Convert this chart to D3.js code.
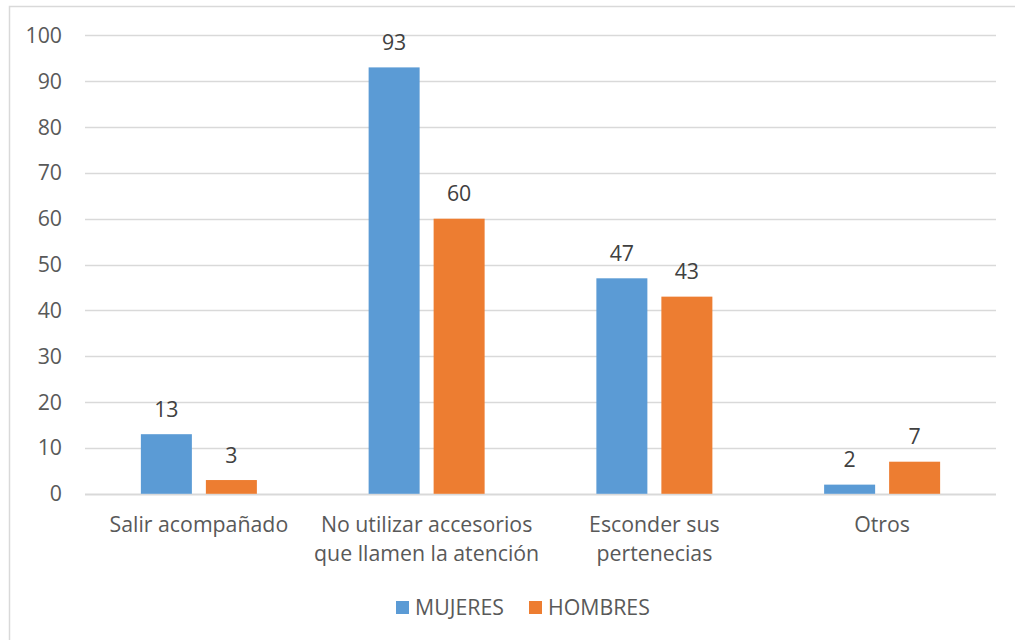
<!DOCTYPE html>
<html><head><meta charset="utf-8">
<script src="https://cdn.jsdelivr.net/npm/d3@7"></script>
<style>body{margin:0;background:#fff;}svg{display:block;font-family:"Open Sans",sans-serif;}</style>
</head><body><svg id="c" width="1015" height="640"></svg>
<script>
const categories = [["Salir acompañado"],["No utilizar accesorios","que llamen la atención"],["Esconder sus","pertenecias"],["Otros"]];
const seriesNames = ["MUJERES","HOMBRES"];
const mujeres = [13,93,47,2];
const hombres = [3,60,43,7];
const yTicks = [0,10,20,30,40,50,60,70,80,90,100];
const colors = ["#5b9bd5","#ed7d31"];

const FS = 21.3;
const svg = d3.select("#c");
// outer frame
svg.append("rect").attr("x",9.5).attr("y",6.5).attr("width",1100).attr("height",700)
  .attr("fill","none").attr("stroke","#d9d9d9").attr("stroke-width",1.5);

const L=85, R=996, T=35.3, B=493.8;
const x = d3.scaleBand().domain(d3.range(categories.length)).range([L,R]).paddingInner(0).paddingOuter(0);
const y = d3.scaleLinear().domain([0,100]).range([B,T]);
const barW = 51, gap = 14;

const g = svg.append("g");
g.selectAll("line.grid").data(yTicks).join("line")
  .attr("x1",L).attr("x2",R).attr("y1",d=>Math.round(y(d))+0.5).attr("y2",d=>Math.round(y(d))+0.5)
  .attr("stroke","#d9d9d9").attr("stroke-width",d=>d===0?2:1.3);

g.selectAll("text.ytick").data(yTicks).join("text")
  .attr("x",62).attr("y",d=>y(d)+7.5).attr("text-anchor","end")
  .attr("font-size",FS).attr("fill","#595959").text(d=>d);

const series=[mujeres,hombres];
series.forEach((vals,s)=>{
  vals.forEach((v,i)=>{
    const bx = x(i) + (x.bandwidth()-(barW*2+gap))/2 + s*(barW+gap);
    g.append("rect").attr("x",bx).attr("y",y(v)).attr("width",barW).attr("height",y(0)-y(v)).attr("fill",colors[s]);
    g.append("text").attr("x",bx+barW/2).attr("y",y(v)-17.5).attr("text-anchor","middle")
      .attr("font-size",FS).attr("fill","#404040").text(v);
  });
});

categories.forEach((lines,i)=>{
  const t = g.append("text").attr("text-anchor","middle").attr("font-size",FS).attr("fill","#595959");
  lines.forEach((ln,j)=>{
    t.append("tspan").attr("x",x(i)+x.bandwidth()/2).attr("y",532+j*29).text(ln);
  });
});

// legend
const leg = svg.append("g");
const legX=[396,529];
seriesNames.forEach((n,s)=>{
  leg.append("rect").attr("x",legX[s]).attr("y",601).attr("width",13).attr("height",13).attr("fill",colors[s]);
  leg.append("text").attr("x",legX[s]+19).attr("y",615).attr("font-size",FS).attr("fill","#595959").text(n);
});
</script></body></html>
